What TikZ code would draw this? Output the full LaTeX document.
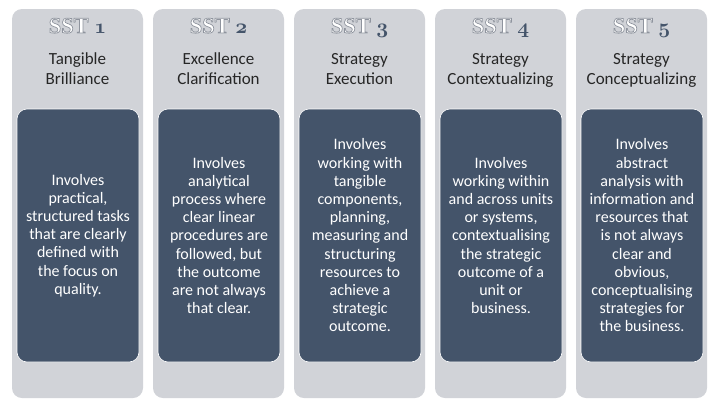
\documentclass[tikz,border=0pt]{standalone}
\usepackage{fontspec}
\setmainfont{Carlito}
\newfontfamily\headfont{Liberation Serif}
\definecolor{outerg}{HTML}{D1D3D8}
\definecolor{slate}{HTML}{44546A}
\definecolor{titlec}{HTML}{262626}
\newcommand{\osnum}[1]{{\usefont{OML}{cmm}{b}{it}#1}}
\newcommand{\sstlabel}[1]{\special{pdf:literal direct 2 Tr 0.7 w 0.56 0.58 0.62 RG}SST\special{pdf:literal direct 0 Tr} \textcolor{slate}{\osnum{#1}}}
\tikzset{
  outerbox/.style={fill=outerg, rounded corners=10pt, minimum width=131pt, minimum height=389pt, inner sep=0pt},
  innerbox/.style={fill=slate, draw=white, line width=0.6pt, rounded corners=10pt, minimum width=122pt, minimum height=253pt, inner sep=0pt},
  headtxt/.style={anchor=base, inner sep=0pt, font=\headfont\bfseries\fontsize{22.5}{26}\selectfont, text=white},
  titletxt/.style={anchor=base, inner sep=0pt, align=center, text=titlec, font=\fontsize{17}{19.5}\selectfont},
  bodytxt/.style={inner sep=0pt, align=center, text=white, font=\fontsize{16}{18.2}\selectfont}
}
\begin{document}
\begin{tikzpicture}[x=1pt,y=-1pt]
\useasboundingbox (0,0) rectangle (720,405);
\fill[white] (0,0) rectangle (720,405);

% column 1
\node[outerbox] (o1) at (77.5,203.5) {};
\node[headtxt] (h1) at (77.5,33) {\sstlabel{1}};
\node[titletxt] (t1) at (77.5,84) {Tangible\\Brilliance};
\node[innerbox] (i1) at (78,235.5) {};
\node[bodytxt] (b1) at (i1.center) {Involves\\practical,\\structured tasks\\that are clearly\\defined with\\the focus on\\quality.};

% column 2
\node[outerbox] (o2) at (218.5,203.5) {};
\node[headtxt] (h2) at (218.5,33) {\sstlabel{2}};
\node[titletxt] (t2) at (218.5,84) {Excellence\\Clarification};
\node[innerbox] (i2) at (219,235.5) {};
\node[bodytxt] (b2) at (i2.center) {Involves\\analytical\\process where\\clear linear\\procedures are\\followed, but\\the outcome\\are not always\\that clear.};

% column 3
\node[outerbox] (o3) at (359.5,203.5) {};
\node[headtxt] (h3) at (359.5,33) {\sstlabel{3}};
\node[titletxt] (t3) at (359.5,84) {Strategy\\Execution};
\node[innerbox] (i3) at (360,235.5) {};
\node[bodytxt] (b3) at (i3.center) {Involves\\working with\\tangible\\components,\\planning,\\measuring and\\structuring\\resources to\\achieve a\\strategic\\outcome.};

% column 4
\node[outerbox] (o4) at (500.5,203.5) {};
\node[headtxt] (h4) at (500.5,33) {\sstlabel{4}};
\node[titletxt] (t4) at (500.5,84) {Strategy\\Contextualizing};
\node[innerbox] (i4) at (501,235.5) {};
\node[bodytxt] (b4) at (i4.center) {Involves\\working within\\and across units\\or systems,\\contextualising\\the strategic\\outcome of a\\unit or\\business.};

% column 5
\node[outerbox] (o5) at (641.5,203.5) {};
\node[headtxt] (h5) at (641.5,33) {\sstlabel{5}};
\node[titletxt] (t5) at (641.5,84) {Strategy\\Conceptualizing};
\node[innerbox] (i5) at (642,235.5) {};
\node[bodytxt] (b5) at (i5.center) {Involves\\abstract\\analysis with\\information and\\resources that\\is not always\\clear and\\obvious,\\conceptualising\\strategies for\\the business.};
\end{tikzpicture}
\end{document}
